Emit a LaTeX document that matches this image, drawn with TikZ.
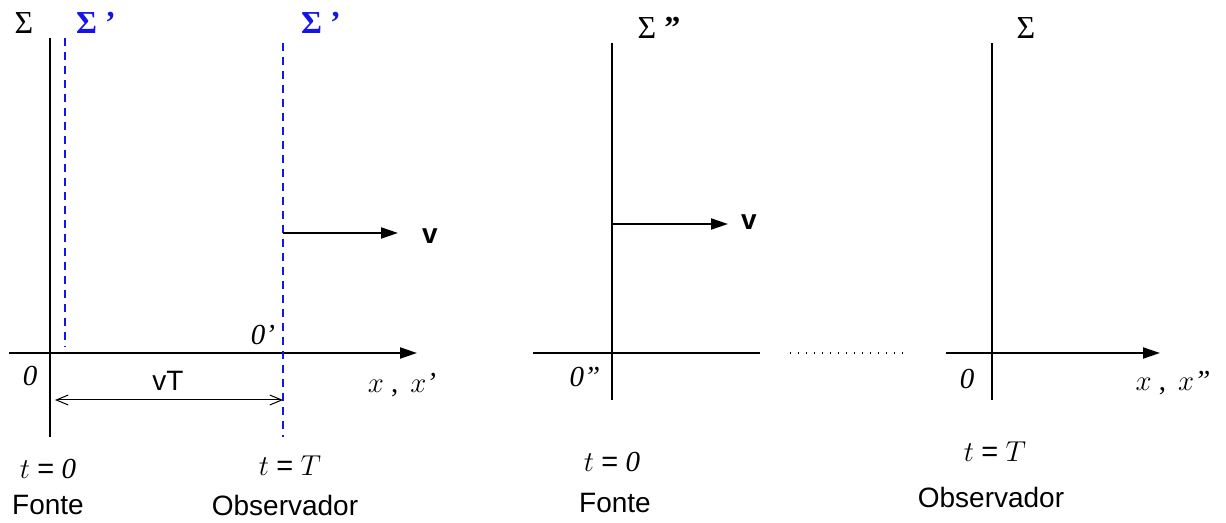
\documentclass[tikz,border=0pt]{standalone}
\usepackage{fontspec}
\setmainfont{Liberation Serif}
\setsansfont{Liberation Sans}
\usetikzlibrary{arrows.meta, positioning}
\definecolor{frameblue}{RGB}{20, 20, 235}

\begin{document}
\begin{tikzpicture}[
    x=0.5pt, y=-0.5pt,
    axis/.style={line width=1pt, black},
    axisarrow/.style={line width=1pt, black, -{Triangle[length=8.5pt, width=5.5pt]}},
    movframe/.style={line width=0.8pt, frameblue, dash pattern=on 4pt off 3pt},
    dimline/.style={line width=0.5pt, {Straight Barb[length=6pt, width=5pt]}-{Straight Barb[length=6pt, width=5pt]}},
    dotline/.style={line width=0.6pt, dash pattern=on 0.6pt off 3.4pt},
    sigmalabel/.style={font=\fontsize{16}{18}\selectfont, inner sep=0pt},
    sigmablue/.style={font=\fontsize{16}{18}\selectfont\bfseries, text=frameblue, inner sep=0pt},
    mathlabel/.style={font=\fontsize{14.5}{16}\selectfont, inner sep=0pt},
    textlabel/.style={font=\sffamily\fontsize{14}{16}\selectfont, inner sep=0pt},
    vlabel/.style={font=\sffamily\bfseries\fontsize{14}{16}\selectfont, inner sep=0pt}
]
\useasboundingbox (0,0) rectangle (1226,523);

% referencial Sigma e Sigma' (esquerda)
\node[sigmalabel] (sig_left) at (24, 23) {Σ};
\node[sigmablue] (sigp_source) at (96, 23) {Σ ’};
\node[sigmablue] (sigp_obs) at (321, 23) {Σ ’};

\coordinate (left_top) at (50, 38);
\coordinate (left_bot) at (50, 437);
\coordinate (left_xa) at (9, 353);
\coordinate (left_xb) at (417, 353);
\coordinate (dash1_top) at (65, 38);
\coordinate (dash1_bot) at (65, 347);
\coordinate (dash2_top) at (283, 43);
\coordinate (dash2_bot) at (283, 437);

\draw[axis] (left_top) -- (left_bot);
\draw[axisarrow] (left_xa) -- (left_xb);
\draw[movframe] (dash1_top) -- (dash1_bot);
\draw[movframe] (dash2_top) -- (dash2_bot);

\node[mathlabel] (orig_left) at (30, 376) {\textit{0}};
\node[mathlabel] (orig_p) at (263, 335) {\textit{0’}};
\node[mathlabel] (xlab_left) at (402, 385) {$x$ ,\, $x$\textit{’}};

% distancia vT
\node[textlabel] (vt_lab) at (168, 381) {vT};
\coordinate (dim_a) at (55, 400);
\coordinate (dim_b) at (283, 400);
\draw[dimline] (dim_a) -- (dim_b);

% velocidade v
\coordinate (v1_a) at (283, 233);
\coordinate (v1_b) at (398, 233);
\draw[axisarrow] (v1_a) -- (v1_b);
\node[vlabel] (v1_lab) at (430, 236) {v};

\node[mathlabel] (t0_left) at (48, 469) {$t$ {\sffamily =} \textit{0}};
\node[textlabel] (fonte_left) at (48, 505) {Fonte};
\node[mathlabel] (tT_left) at (290, 466) {$t$ {\sffamily =} $T$};
\node[textlabel] (obs_left) at (285, 505) {Observador};

% referencial Sigma'' (meio)
\node[sigmalabel] (sig_pp) at (659, 28) {Σ \textbf{”}};
\coordinate (mid_top) at (612, 43);
\coordinate (mid_bot) at (612, 400);
\coordinate (mid_xa) at (533, 353);
\coordinate (mid_xb) at (760, 353);
\draw[axis] (mid_top) -- (mid_bot);
\draw[axis] (mid_xa) -- (mid_xb);

\coordinate (v2_a) at (612, 224);
\coordinate (v2_b) at (728, 224);
\draw[axisarrow] (v2_a) -- (v2_b);
\node[vlabel] (v2_lab) at (749, 222) {v};

\node[mathlabel] (orig_pp) at (585, 377) {\textit{0”}};
\node[mathlabel] (t0_mid) at (612, 462) {$t$ {\sffamily =} \textit{0}};
\node[textlabel] (fonte_mid) at (615, 503) {Fonte};

% pontilhado
\coordinate (dots_a) at (790, 353);
\coordinate (dots_b) at (905, 353);
\draw[dotline] (dots_a) -- (dots_b);

% referencial Sigma (direita)
\node[sigmalabel] (sig_right) at (1026, 28) {Σ};
\coordinate (right_top) at (992, 43);
\coordinate (right_bot) at (992, 400);
\coordinate (right_xa) at (946, 353);
\coordinate (right_xb) at (1160, 353);
\draw[axis] (right_top) -- (right_bot);
\draw[axisarrow] (right_xa) -- (right_xb);

\node[mathlabel] (orig_right) at (967, 379) {\textit{0}};
\node[mathlabel] (xlab_right) at (1173, 383) {$x$ ,\, $x$\textit{”}};
\node[mathlabel] (tT_right) at (995, 452) {$t$ {\sffamily =} $T$};
\node[textlabel] (obs_right) at (991, 497) {Observador};

\end{tikzpicture}
\end{document}
